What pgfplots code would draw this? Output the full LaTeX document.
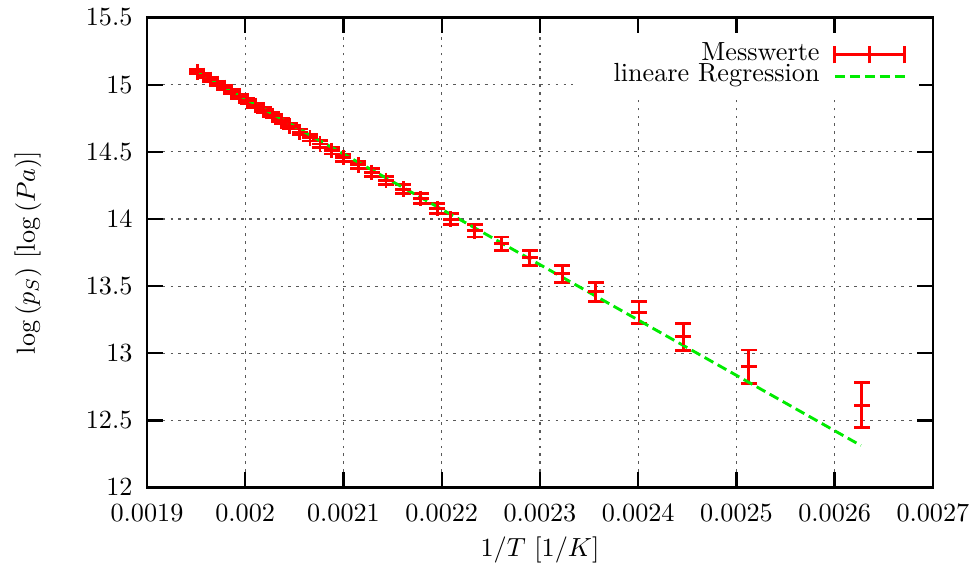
\documentclass[border=0pt]{standalone}
\usepackage{pgfplots}
\pgfplotsset{compat=1.18}
\definecolor{gpred}{RGB}{255,0,0}
\definecolor{gpgreen}{RGB}{0,235,0}

% measured values: 1/T, log(p_S), error
\pgfplotstableread{
x          y       e
0.0019512  15.096  0.014
0.0019578  15.068  0.014
0.0019646  15.039  0.015
0.0019718  15.009  0.015
0.0019788  14.979  0.016
0.0019864  14.947  0.016
0.0019941  14.914  0.017
0.0020022  14.880  0.017
0.0020104  14.845  0.018
0.0020190  14.809  0.019
0.0020279  14.771  0.019
0.0020371  14.732  0.020
0.0020455  14.691  0.021
0.0020557  14.648  0.022
0.0020659  14.604  0.023
0.0020761  14.558  0.024
0.0020880  14.509  0.025
0.0020998  14.457  0.026
0.0021151  14.403  0.028
0.0021287  14.346  0.029
0.0021433  14.286  0.031
0.0021609  14.221  0.033
0.0021786  14.152  0.036
0.0021955  14.078  0.038
0.0022094  13.998  0.042
0.0022338  13.911  0.045
0.0022610  13.816  0.050
0.0022898  13.710  0.056
0.0023227  13.592  0.063
0.0023567  13.459  0.071
0.0024008  13.305  0.083
0.0024458  13.122  0.100
0.0025127  12.899  0.125
0.0026277  12.612  0.167
}\messwerte

\pgfplotsset{
  errkey/.style={legend image code/.code={
    \draw[gpred, line width=1.1pt] (0pt,0pt) -- (26.7pt,0pt)
      (0pt,-3.2pt) -- (0pt,3.2pt)
      (13.35pt,-3.2pt) -- (13.35pt,3.2pt)
      (26.7pt,-3.2pt) -- (26.7pt,3.2pt);}},
  regkey/.style={legend image code/.code={
    \draw[gpgreen, line width=1.1pt, dash pattern=on 3.8pt off 1.9pt]
      (0pt,0pt) -- (26.7pt,0pt);}},
}

\begin{document}
\begin{tikzpicture}
\useasboundingbox (-56.1pt,-32.6pt) rectangle (317.6pt,186.1pt);
\begin{axis}[
  scale only axis,
  width=300pt, height=179.4pt,
  xmin=0.0019, xmax=0.0027,
  ymin=12, ymax=15.5,
  xtick={0.0019,0.002,0.0021,0.0022,0.0023,0.0024,0.0025,0.0026,0.0027},
  ytick={12,12.5,13,13.5,14,14.5,15,15.5},
  scaled x ticks=false,
  xticklabel style={/pgf/number format/fixed, /pgf/number format/precision=4, yshift=-3pt},
  yticklabel style={xshift=-2pt},
  grid=major,
  major grid style={black!65, line width=0.45pt, dash pattern=on 1pt off 2pt},
  axis line style={line width=0.9pt},
  major tick length=6pt,
  every tick/.style={black, line width=0.9pt},
  xlabel={$1/T$ [$1/K$]},
  ylabel={$\log\left(p_S\right)$ [$\log\left(Pa\right)$]},
  every axis x label/.style={at={(axis description cs:0.5,-0.1326)}, anchor=center},
  every axis y label/.style={at={(axis description cs:-0.151,0.5)}, anchor=center, rotate=90},
  legend plot pos=right,
  legend style={at={(axis description cs:0.9835,0.961)}, anchor=north east,
    draw=none, fill=white, inner xsep=5pt, inner ysep=3pt, column sep=4.3pt,
    nodes={text width=88pt, align=right, inner xsep=1pt, inner ysep=0pt,
      text height=6.2pt, text depth=1.9pt}},
]
\addplot[gpred, line width=1.1pt, only marks, mark=+, mark size=3pt, errkey,
  error bars/.cd, y dir=both, y explicit,
  error bar style={line width=1.1pt},
  error mark options={gpred, mark size=3pt, line width=1.1pt, rotate=90}]
  table[x=x, y=y, y error=e] {\messwerte};
\addlegendentry{Messwerte}
\addplot[gpgreen, line width=1.1pt, dash pattern=on 3.8pt off 1.9pt, regkey]
  coordinates {(0.0019512,15.098) (0.0026267,12.313)};
\addlegendentry{lineare Regression}
\end{axis}
\end{tikzpicture}
\end{document}
